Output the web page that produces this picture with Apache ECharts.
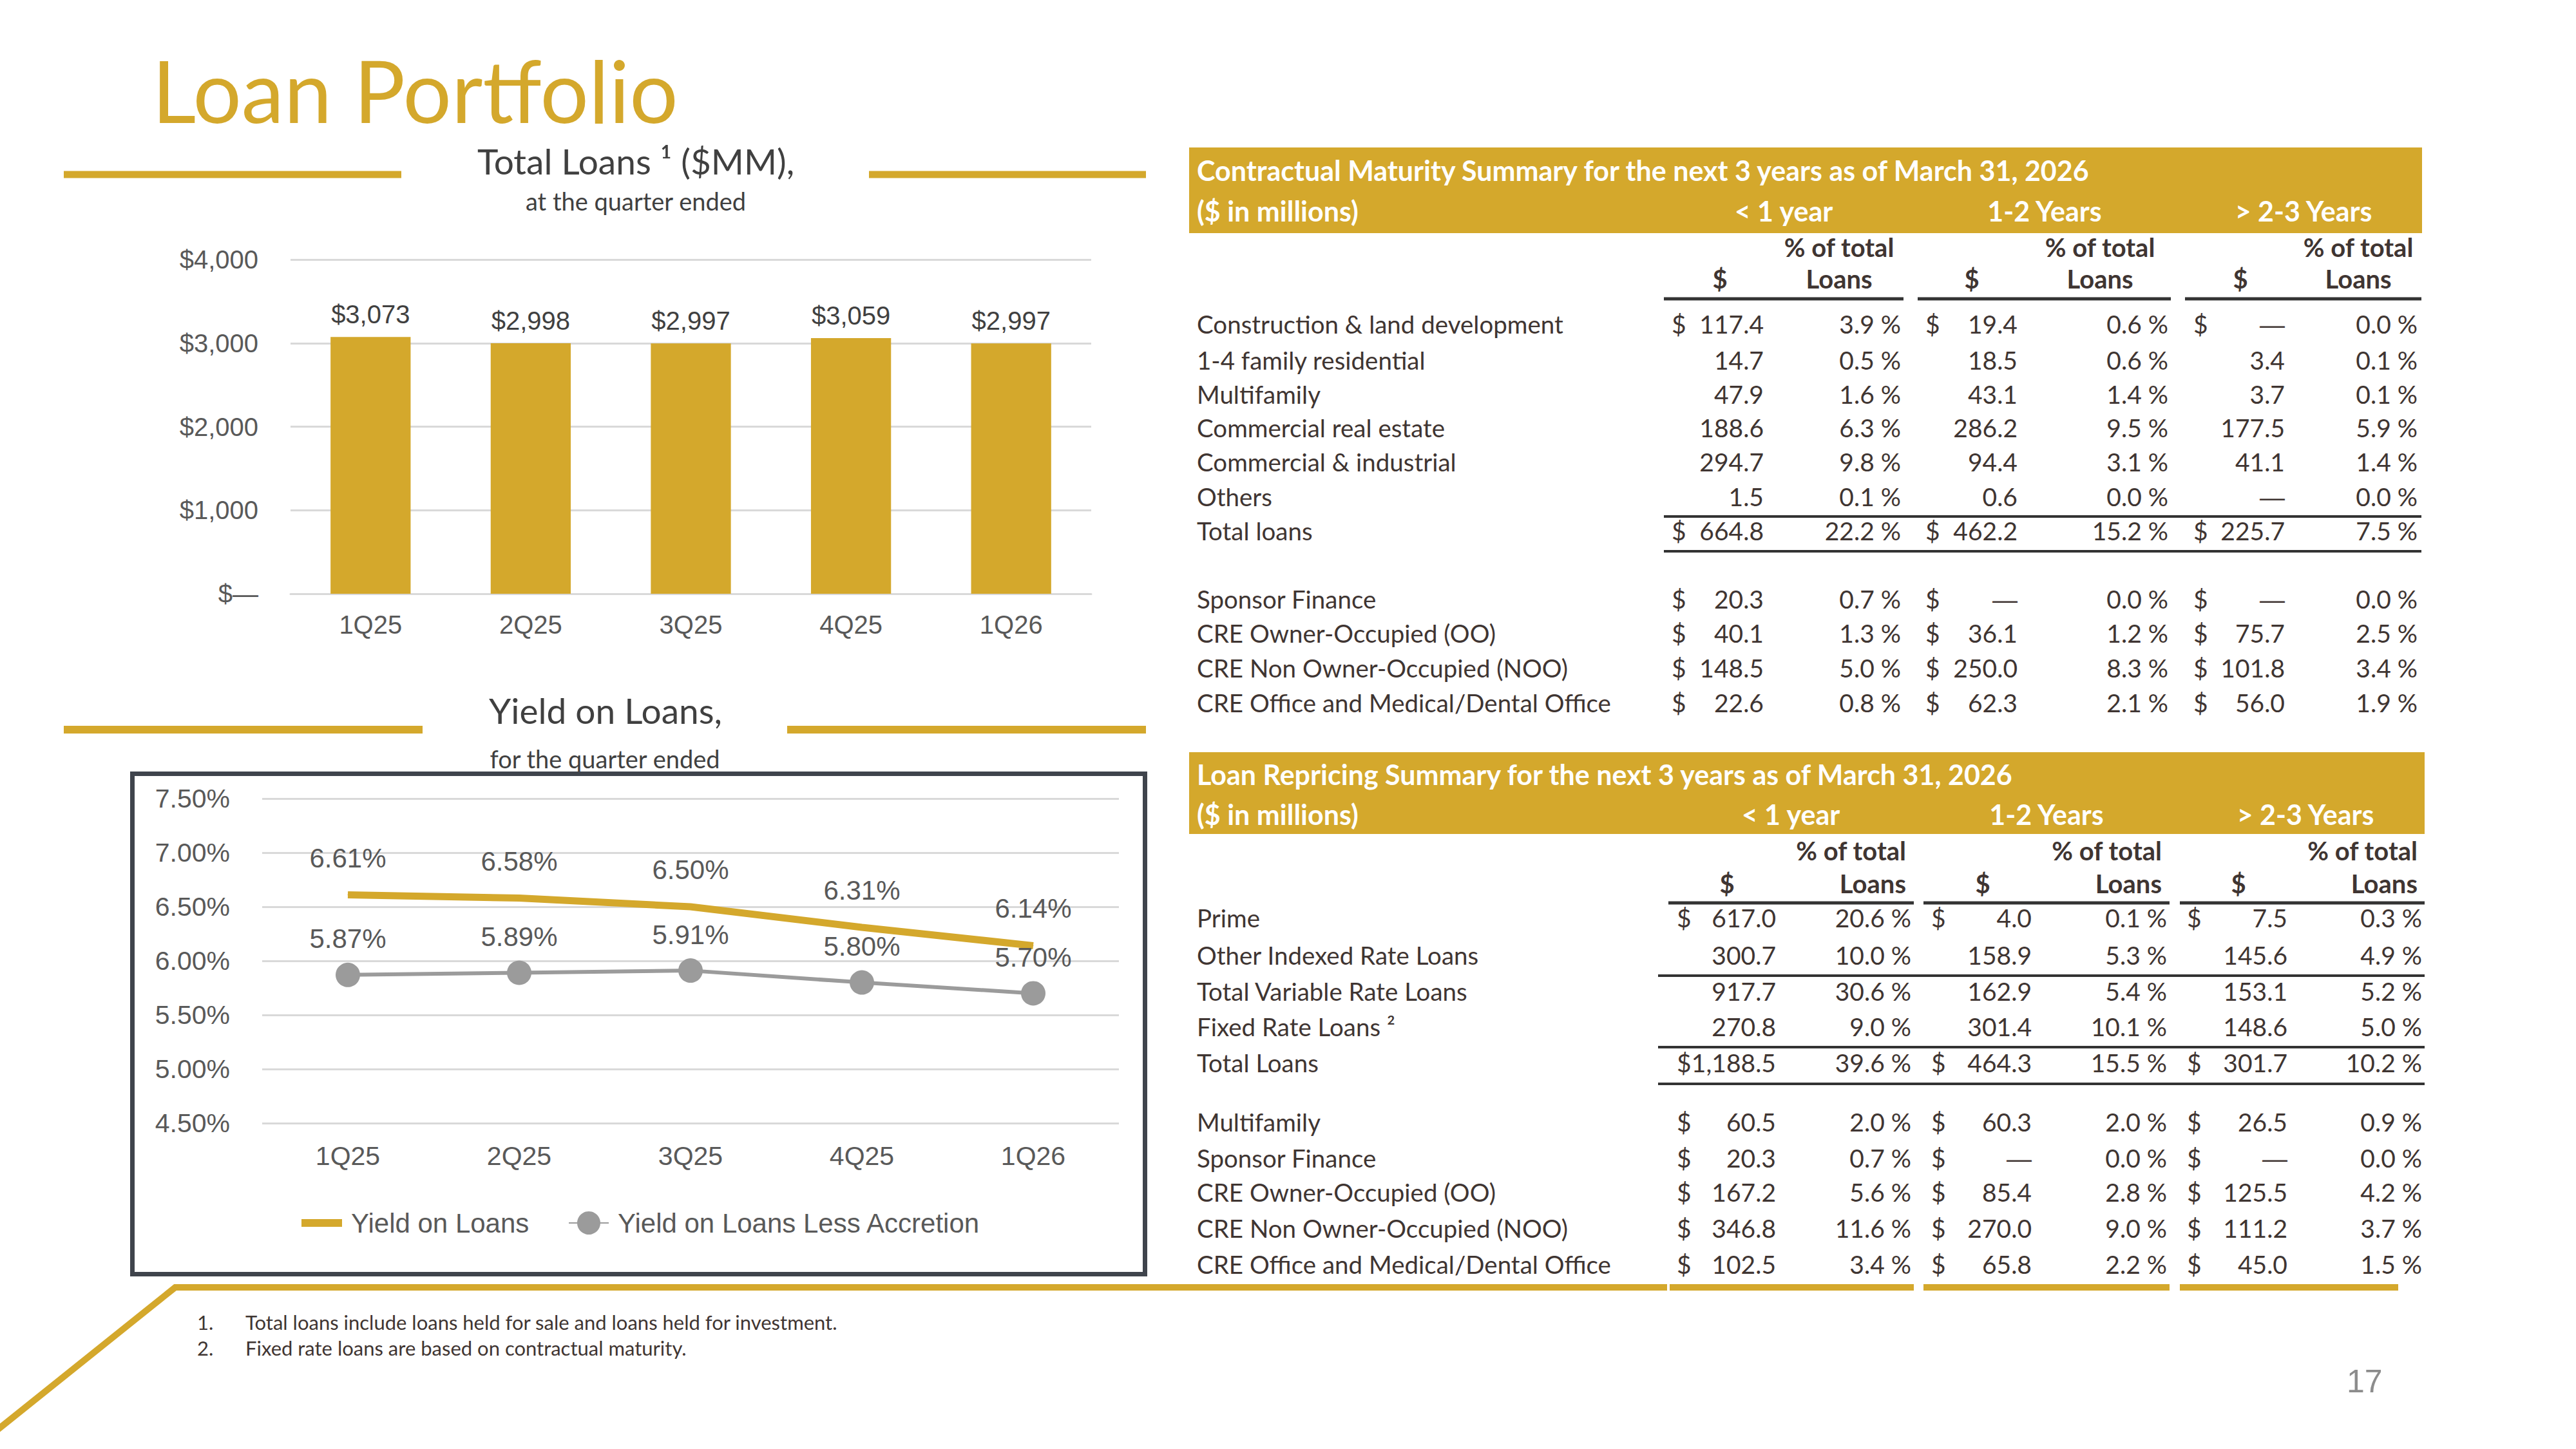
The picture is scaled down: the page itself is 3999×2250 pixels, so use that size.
<!DOCTYPE html>
<html>
<head>
<meta charset="utf-8">
<title>Loan Portfolio</title>
<script src="https://cdn.jsdelivr.net/npm/echarts/dist/echarts.min.js"></script>
<style>
  html, body { margin: 0; padding: 0; background: #fff; }
  #main { width: 3999px; height: 2250px; }
</style>
</head>
<body>
<div id="main"></div>
<script>
// ---- chart data ----
var quarters = ['1Q25', '2Q25', '3Q25', '4Q25', '1Q26'];
var totalLoans = [3073, 2998, 2997, 3059, 2997];
var yieldOnLoans = [6.61, 6.58, 6.50, 6.31, 6.14];
var yieldLessAccretion = [5.87, 5.89, 5.91, 5.80, 5.70];

// ---- contractual maturity table ----
var periods = ['< 1 year', '1-2 Years', '> 2-3 Years'];
var maturityLabels = ['Construction & land development', '1-4 family residential', 'Multifamily',
  'Commercial real estate', 'Commercial & industrial', 'Others', 'Total loans',
  'Sponsor Finance', 'CRE Owner-Occupied (OO)', 'CRE Non Owner-Occupied (NOO)', 'CRE Office and Medical/Dental Office'];
var maturityDollar = [true, false, false, false, false, false, true, true, true, true, true];
var maturityAmt1 = [117.4, 14.7, 47.9, 188.6, 294.7, 1.5, 664.8, 20.3, 40.1, 148.5, 22.6];
var maturityPct1 = [3.9, 0.5, 1.6, 6.3, 9.8, 0.1, 22.2, 0.7, 1.3, 5.0, 0.8];
var maturityAmt2 = [19.4, 18.5, 43.1, 286.2, 94.4, 0.6, 462.2, null, 36.1, 250.0, 62.3];
var maturityPct2 = [0.6, 0.6, 1.4, 9.5, 3.1, 0.0, 15.2, 0.0, 1.2, 8.3, 2.1];
var maturityAmt3 = [null, 3.4, 3.7, 177.5, 41.1, null, 225.7, null, 75.7, 101.8, 56.0];
var maturityPct3 = [0.0, 0.1, 0.1, 5.9, 1.4, 0.0, 7.5, 0.0, 2.5, 3.4, 1.9];

// ---- loan repricing table ----
var repricingLabels = ['Prime', 'Other Indexed Rate Loans', 'Total Variable Rate Loans', 'Fixed Rate Loans ²',
  'Total Loans', 'Multifamily', 'Sponsor Finance', 'CRE Owner-Occupied (OO)',
  'CRE Non Owner-Occupied (NOO)', 'CRE Office and Medical/Dental Office'];
var repricingDollar = [true, false, false, false, true, true, true, true, true, true];
var repricingAmt1 = [617.0, 300.7, 917.7, 270.8, 1188.5, 60.5, 20.3, 167.2, 346.8, 102.5];
var repricingPct1 = [20.6, 10.0, 30.6, 9.0, 39.6, 2.0, 0.7, 5.6, 11.6, 3.4];
var repricingAmt2 = [4.0, 158.9, 162.9, 301.4, 464.3, 60.3, null, 85.4, 270.0, 65.8];
var repricingPct2 = [0.1, 5.3, 5.4, 10.1, 15.5, 2.0, 0.0, 2.8, 9.0, 2.2];
var repricingAmt3 = [7.5, 145.6, 153.1, 148.6, 301.7, 26.5, null, 125.5, 111.2, 45.0];
var repricingPct3 = [0.3, 4.9, 5.2, 5.0, 10.2, 0.9, 0.0, 4.2, 3.7, 1.5];

var footnotes = ['Total loans include loans held for sale and loans held for investment.',
  'Fixed rate loans are based on contractual maturity.'];

var GOLD = '#D4A82C';
var INK = '#3F3532';
var GREY_TXT = '#595959';

var dom = document.getElementById('main');
var myChart = echarts.init(dom, null, { renderer: 'svg' });

// text placed by its baseline (Lato central ~0.387em above baseline)
function txt(x, base, s, size, opt) {
  opt = opt || {};
  var fam = opt.family || 'Lato';
  var k = fam === 'Lato' ? 0.387 : 0.347;
  var al = opt.align || 'left';
  return {
    type: 'text', x: x, y: base - k * size, silent: true, z: opt.z || 10,
    style: {
      text: s, font: (opt.weight || 'normal') + ' ' + size + 'px ' + fam,
      fill: opt.color || INK, textAlign: al, align: al,
      textVerticalAlign: 'middle', verticalAlign: 'middle'
    }
  };
}
function bar(x1, x2, yc, h, color, z) {
  return { type: 'rect', silent: true, z: z || 5, shape: { x: x1, y: yc - h / 2, width: x2 - x1, height: h }, style: { fill: color } };
}
function fmtAmt(v) {
  return v === null ? '—' : v.toLocaleString('en-US', { minimumFractionDigits: 1, maximumFractionDigits: 1 });
}

function buildTable(t) {
  var els = [];
  els.push(bar(1846, t.boxRight, (t.boxTop + t.boxBottom) / 2, t.boxBottom - t.boxTop, GOLD, 4));
  els.push(txt(1858, t.titleBase, t.title, 43, { weight: 'bold', color: '#fff' }));
  els.push(txt(1858, t.row2Base, '($ in millions)', 43, { weight: 'bold', color: '#fff' }));
  periods.forEach(function (p, i) {
    els.push(txt(t.periodX[i], t.row2Base, p, 43, { weight: 'bold', color: '#fff', align: 'center' }));
  });
  t.cols.forEach(function (c) {
    els.push(txt(c.hdrC, t.subBase2, '$', 40, { weight: 'bold', align: 'center' }));
    els.push(txt(c.pctHdrX, t.subBase1, '% of total', 40, { weight: 'bold', align: t.pctHdrAlign }));
    els.push(txt(c.pctHdrX, t.subBase2, 'Loans', 40, { weight: 'bold', align: t.pctHdrAlign }));
  });
  t.underSegs.forEach(function (s) { els.push(bar(s[0], s[1], t.underY, 5, '#333')); });
  t.rules.forEach(function (y) { els.push(bar(t.ruleX[0], t.ruleX[1], y, 4, '#333')); });
  t.labels.forEach(function (lab, i) {
    var b = t.rowBase[i];
    els.push(txt(1858, b, lab, 38.5));
    t.cols.forEach(function (c, j) {
      var a = t.amts[j][i];
      if (t.dollar[i]) els.push(txt(c.sign, b, '$', 39));
      els.push(txt(c.valR, b, fmtAmt(a), 39,
        a === null ? { align: 'right', family: 'Liberation Sans' } : { align: 'right' }));
      els.push(txt(c.pctR, b, t.pcts[j][i].toFixed(1) + ' %', 39, { align: 'right' }));
    });
  });
  return els;
}

var maturityTable = buildTable({
  title: 'Contractual Maturity Summary for the next 3 years as of March 31, 2026',
  boxTop: 229, boxBottom: 362, boxRight: 3760, titleBase: 281, row2Base: 344,
  periodX: [2769, 3174, 3576],
  subBase1: 399, subBase2: 448, pctHdrAlign: 'center',
  cols: [
    { sign: 2595, valR: 2738, hdrC: 2670, pctR: 2951, pctHdrX: 2855 },
    { sign: 2989, valR: 3132, hdrC: 3061, pctR: 3366, pctHdrX: 3260 },
    { sign: 3405, valR: 3547, hdrC: 3478, pctR: 3753, pctHdrX: 3661 }
  ],
  underY: 464, underSegs: [[2583, 2955], [2977, 3370], [3392, 3759]],
  rules: [802, 856], ruleX: [2583, 3759],
  rowBase: [518, 574, 627, 679, 732, 786, 839, 945, 998, 1052, 1106],
  labels: maturityLabels, dollar: maturityDollar,
  amts: [maturityAmt1, maturityAmt2, maturityAmt3],
  pcts: [maturityPct1, maturityPct2, maturityPct3]
});

var repricingTable = buildTable({
  title: 'Loan Repricing Summary for the next 3 years as of March 31, 2026',
  boxTop: 1168, boxBottom: 1295, boxRight: 3764, titleBase: 1219, row2Base: 1281,
  periodX: [2780, 3177, 3579],
  subBase1: 1336, subBase2: 1387, pctHdrAlign: 'right',
  cols: [
    { sign: 2603, valR: 2757, hdrC: 2681, pctR: 2967, pctHdrX: 2959 },
    { sign: 2998, valR: 3154, hdrC: 3078, pctR: 3364, pctHdrX: 3356 },
    { sign: 3395, valR: 3551, hdrC: 3475, pctR: 3760, pctHdrX: 3753 }
  ],
  underY: 1402, underSegs: [[2590, 2971], [2986, 3368], [3384, 3764]],
  rules: [1515, 1626, 1683], ruleX: [2574, 3764],
  rowBase: [1440, 1498, 1554, 1609, 1665, 1757, 1813, 1866, 1922, 1978],
  labels: repricingLabels, dollar: repricingDollar,
  amts: [repricingAmt1, repricingAmt2, repricingAmt3],
  pcts: [repricingPct1, repricingPct2, repricingPct3]
});

var decor = [
  txt(236, 191, 'Loan Portfolio', 133, { color: GOLD }),
  // bar chart heading
  bar(99, 623, 271, 11, GOLD), bar(1349, 1779, 271, 11, GOLD),
  txt(987, 271, 'Total Loans ¹ ($MM),', 55, { align: 'center', color: '#404040' }),
  txt(987, 327, 'at the quarter ended', 38, { align: 'center', color: '#404040' }),
  // line chart heading
  bar(99, 656, 1133, 12, GOLD), bar(1222, 1779, 1133, 12, GOLD),
  txt(940, 1124, 'Yield on Loans,', 55, { align: 'center', color: '#404040' }),
  txt(939, 1193, 'for the quarter ended', 38, { align: 'center', color: '#404040' }),
  { type: 'rect', silent: true, z: 20, shape: { x: 205.5, y: 1201.5, width: 1572, height: 777 },
    style: { fill: 'none', stroke: '#3F444C', lineWidth: 7 } },
  // footer line
  { type: 'polyline', silent: true, z: 5, shape: { points: [[-20, 2233], [272, 1999], [2588, 1999]] },
    style: { fill: 'none', stroke: GOLD, lineWidth: 10 } },
  bar(2592, 2971, 1999, 10, GOLD), bar(2986, 3368, 1999, 10, GOLD), bar(3384, 3723, 1999, 10, GOLD),
  txt(306, 2065, '1.', 31), txt(381, 2065, footnotes[0], 31),
  txt(306, 2105, '2.', 31), txt(381, 2105, footnotes[1], 31),
  txt(3643, 2162, '17', 50, { family: 'Liberation Sans', color: '#8C8C8C' })
];

option = {
  backgroundColor: '#fff',
  animation: false,
  textStyle: { fontFamily: 'Liberation Sans' },
  grid: [
    { left: 451, top: 403, width: 1243, height: 519 },
    { left: 407, top: 1240, width: 1330, height: 504 }
  ],
  xAxis: [
    {
      gridIndex: 0, type: 'category', data: quarters,
      axisLine: { show: true, lineStyle: { color: '#D9D9D9', width: 3 } },
      axisTick: { show: false },
      axisLabel: { margin: 28, fontSize: 40, color: GREY_TXT }
    },
    {
      gridIndex: 1, type: 'category', data: quarters,
      axisLine: { show: false }, axisTick: { show: false },
      axisLabel: { margin: 30, fontSize: 41, color: GREY_TXT }
    }
  ],
  yAxis: [
    {
      gridIndex: 0, type: 'value', min: 0, max: 4000, interval: 1000,
      axisLabel: {
        margin: 50, fontSize: 40, color: GREY_TXT,
        formatter: function (v) { return v === 0 ? '$—' : '$' + v.toLocaleString('en-US'); }
      },
      splitLine: { lineStyle: { color: '#D9D9D9', width: 3 } }
    },
    {
      gridIndex: 1, type: 'value', min: 4.5, max: 7.5, interval: 0.5,
      axisLabel: {
        margin: 50, fontSize: 41, color: GREY_TXT,
        formatter: function (v) { return v.toFixed(2) + '%'; }
      },
      splitLine: { lineStyle: { color: '#D9D9D9', width: 3 } }
    }
  ],
  legend: [
    {
      data: ['Yield on Loans'], left: 468, top: 1878, padding: 0,
      icon: 'rect', itemWidth: 63, itemHeight: 12,
      textStyle: { fontSize: 42, color: GREY_TXT, padding: [0, 0, 0, 9] }
    },
    {
      data: ['Yield on Loans Less Accretion'], left: 882, top: 1878, padding: 0,
      itemWidth: 62, itemHeight: 45,
      textStyle: { fontSize: 42, color: GREY_TXT, padding: [0, 0, 0, 9] }
    }
  ],
  series: [
    {
      name: 'Total Loans', type: 'bar', xAxisIndex: 0, yAxisIndex: 0,
      data: totalLoans, barWidth: '50%',
      itemStyle: { color: GOLD },
      label: {
        show: true, position: 'top', distance: 15, fontSize: 40, color: '#404040',
        formatter: function (p) { return '$' + p.value.toLocaleString('en-US'); }
      }
    },
    {
      name: 'Yield on Loans', type: 'line', xAxisIndex: 1, yAxisIndex: 1,
      data: yieldOnLoans, symbol: 'circle', symbolSize: 1,
      lineStyle: { width: 11, color: GOLD }, itemStyle: { color: GOLD },
      label: {
        show: true, position: 'top', distance: 36, fontSize: 42, color: GREY_TXT,
        formatter: function (p) { return p.value.toFixed(2) + '%'; }
      }
    },
    {
      name: 'Yield on Loans Less Accretion', type: 'line', xAxisIndex: 1, yAxisIndex: 1,
      data: yieldLessAccretion, symbol: 'circle', symbolSize: 38,
      lineStyle: { width: 6, color: '#9B9B9B' }, itemStyle: { color: '#9B9B9B' },
      label: {
        show: true, position: 'top', distance: 16, fontSize: 42, color: GREY_TXT,
        formatter: function (p) { return p.value.toFixed(2) + '%'; }
      }
    }
  ],
  graphic: { elements: decor.concat(maturityTable, repricingTable) }
};

if (option && typeof option === 'object') {
  myChart.setOption(option, true);
}
</script>
</body>
</html>
